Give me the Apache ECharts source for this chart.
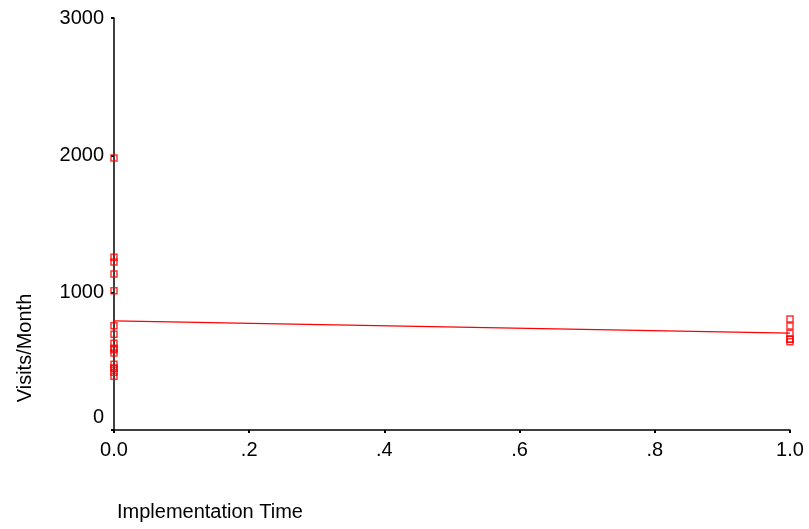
<!DOCTYPE html>
<html>
<head>
<meta charset="utf-8">
<script src="https://cdn.jsdelivr.net/npm/echarts@6/dist/echarts.min.js"></script>
<style>html,body{margin:0;padding:0;background:#fff}#c{width:809px;height:529px}</style>
</head>
<body>
<div id="c"></div>
<script>
// Data
var groupZeroVisits = [1980, 1257, 1223, 1136, 1014, 759, 697, 631, 595, 585, 560, 478, 450, 449, 420, 391];
var groupOneVisits = [808, 757, 704, 660, 643, 660];
var fitLine = [[0, 794], [1, 705]];
var xTicks = [0, 0.2, 0.4, 0.6, 0.8, 1.0];
var yTicks = [0, 1000, 2000, 3000];

var points = [];
groupZeroVisits.forEach(function (v) { points.push([0, v]); });
groupOneVisits.forEach(function (v) { points.push([1, v]); });

function xFmt(v) {
  if (Math.abs(v) < 1e-9) return '0.0';
  if (Math.abs(v - 1) < 1e-9) return '1.0';
  return '.' + Math.round(v * 10);
}

var chart = echarts.init(document.getElementById('c'), null, {renderer: 'canvas'});
chart.setOption({
  animation: false,
  backgroundColor: '#fff',
  grid: {left: 114, right: 19, top: 18, bottom: 99, containLabel: false},
  xAxis: {
    type: 'value', min: 0, max: 1, interval: 0.2,
    axisLine: {show: true, onZero: false, lineStyle: {color: '#000', width: 1.5}},
    axisTick: {show: true, length: 3, lineStyle: {color: '#000', width: 2}},
    splitLine: {show: false},
    axisLabel: {
      color: '#000', fontFamily: 'Liberation Sans, Arial', fontSize: 20, margin: 10,
      formatter: xFmt
    }
  },
  yAxis: {
    type: 'value', min: 0, max: 3000, interval: 1000,
    axisLine: {show: true, onZero: false, lineStyle: {color: '#000', width: 1.5}},
    axisTick: {show: true, length: 3, lineStyle: {color: '#000', width: 2}},
    splitLine: {show: false},
    axisLabel: {
      color: '#000', fontFamily: 'Liberation Sans, Arial', fontSize: 20, margin: 10,
      formatter: function (v) { return v === 0 ? '{z|0}' : String(v); },
      rich: {z: {fontFamily: 'Liberation Sans, Arial', fontSize: 20, color: '#000', padding: [0, 0, 26, 0]}}
    }
  },
  graphic: [
    {type: 'text', left: 117, top: 502, style: {text: 'Implementation Time', font: '20px "Liberation Sans", Arial', fill: '#000'}},
    {type: 'text', x: 15, y: 348, rotation: Math.PI / 2, style: {text: 'Visits/Month', font: '20px "Liberation Sans", Arial', fill: '#000', align: 'center', verticalAlign: 'top'}}
  ],
  series: [
    {
      type: 'line', data: fitLine, showSymbol: false, symbol: 'none',
      lineStyle: {color: '#ff0000', width: 1.2}, z: 2
    },
    {
      type: 'scatter', data: points, symbol: 'rect', symbolSize: 6,
      itemStyle: {color: 'rgba(255,255,255,0)', borderColor: '#ff0000', borderWidth: 1.5}, z: 3
    }
  ]
});
</script>
</body>
</html>
